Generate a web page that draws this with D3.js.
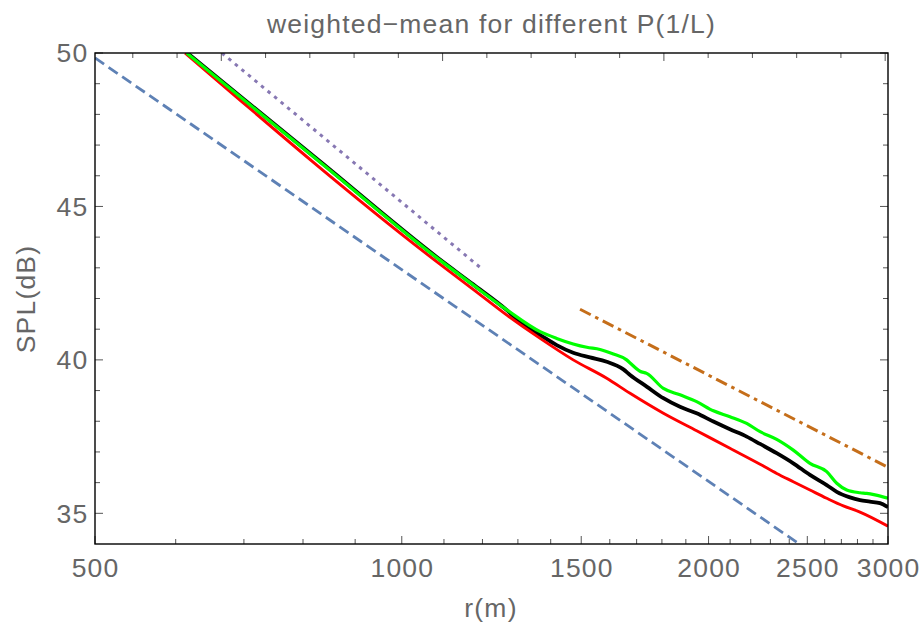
<!DOCTYPE html>
<html><head><meta charset="utf-8">
<script src="https://cdn.jsdelivr.net/npm/d3@7"></script>
<style>
html,body{margin:0;padding:0;background:#fff;}
svg text{font-family:"Liberation Sans",Arial,sans-serif;fill:#666;}
</style></head>
<body><svg id="chart" width="923" height="624"></svg>
<script>
// ---- data ----
const titleText = "weighted\u2212mean for different P(1/L)";
const xLabelText = "r(m)";
const yLabelText = "SPL(dB)";
const xDomain = [500, 3000];
const yDomain = [34, 50];
const xMajorTicks = [500, 1000, 1500, 2000, 2500, 3000];
const xMinorTicks = [600, 700, 800, 900, 1100, 1200, 1300, 1400, 1600, 1700, 1800, 1900, 2100, 2200, 2300, 2400, 2600, 2700, 2800, 2900];
const yMajorTicks = [35, 40, 45, 50];
const yMinorTicks = [36, 37, 38, 39, 41, 42, 43, 44, 46, 47, 48, 49];
// top frame ticks (in ln r units)
const topMajorLn = [6.5, 7.0, 7.5, 8.0];
const topMinorLn = [6.3, 6.4, 6.6, 6.7, 6.8, 6.9, 7.1, 7.2, 7.3, 7.4, 7.6, 7.7, 7.8, 7.9];

const rGreen = [615, 831, 1090, 1175, 1268, 1367, 1419, 1473, 1519, 1565, 1613, 1662, 1675, 1713, 1739, 1806, 1875, 1947, 2022, 2099, 2180, 2247, 2333, 2422, 2515, 2612, 2672, 2733, 2816, 2859, 2913, 3000];
const splGreen = [50.00, 46.45, 43.25, 42.44, 41.63, 40.92, 40.70, 40.52, 40.41, 40.34, 40.19, 40.00, 39.90, 39.63, 39.56, 39.07, 38.86, 38.64, 38.34, 38.15, 37.93, 37.66, 37.41, 37.06, 36.63, 36.36, 35.98, 35.76, 35.67, 35.65, 35.60, 35.49];

const rBlack = [615, 831, 1090, 1175, 1268, 1316, 1367, 1419, 1473, 1530, 1589, 1650, 1675, 1739, 1806, 1875, 1947, 2022, 2099, 2180, 2247, 2333, 2422, 2515, 2612, 2672, 2753, 2816, 2880, 2946, 3000];
const splBlack = [50.02, 46.47, 43.27, 42.46, 41.62, 41.14, 40.81, 40.48, 40.23, 40.08, 39.94, 39.69, 39.51, 39.13, 38.75, 38.47, 38.26, 37.99, 37.74, 37.50, 37.26, 36.96, 36.63, 36.25, 35.92, 35.70, 35.52, 35.43, 35.38, 35.33, 35.20];

const rRed = [613, 1090, 1175, 1268, 1367, 1473, 1589, 1675, 1806, 1947, 2099, 2247, 2333, 2422, 2515, 2612, 2712, 2816, 3000];
const splRed = [50.00, 43.12, 42.30, 41.46, 40.70, 40.00, 39.40, 38.91, 38.26, 37.69, 37.12, 36.60, 36.30, 36.03, 35.76, 35.49, 35.24, 35.04, 34.58];

const rBlueRef = [500, 2455];
const splBlueRef = [49.84, 34.0];
const rPurpleRef = [666, 1195];
const splPurpleRef = [50.0, 43.0];
const rOrangeRef = [1496, 3000];
const splOrangeRef = [41.65, 36.5];

// ---- layout ----
const m = {left: 95, right: 888, top: 53, bottom: 544};
const svg = d3.select("#chart");
const x = d3.scaleLog().domain(xDomain).range([m.left, m.right]);
const y = d3.scaleLinear().domain(yDomain).range([m.bottom, m.top]);
const xLn = d3.scaleLinear().domain([Math.log(xDomain[0]), Math.log(xDomain[1])]).range([m.left, m.right]);

svg.append("defs").append("clipPath").attr("id", "clip")
  .append("rect").attr("x", m.left).attr("y", m.top)
  .attr("width", m.right - m.left).attr("height", m.bottom - m.top);

const fs = "26.5px", ls = "1.2px";

// title
svg.append("text").attr("x", (m.left + m.right) / 2).attr("y", 33)
  .attr("text-anchor", "middle").style("font-size", fs).style("letter-spacing", ls).text(titleText);

// lines
const plot = svg.append("g").attr("clip-path", "url(#clip)");
const line = d3.line().x(d => x(d[0])).y(d => y(d[1]));
const zip = (a, b) => a.map((v, i) => [v, b[i]]);

plot.append("path").datum(zip(rBlueRef, splBlueRef)).attr("d", line)
  .attr("fill", "none").attr("stroke", "#5E81B5").attr("stroke-width", 2.8).attr("stroke-dasharray", "11,5.5");
plot.append("path").datum(zip(rPurpleRef, splPurpleRef)).attr("d", line)
  .attr("fill", "none").attr("stroke", "#8778B3").attr("stroke-width", 3).attr("stroke-dasharray", "3.5,5");
plot.append("path").datum(zip(rOrangeRef, splOrangeRef)).attr("d", line)
  .attr("fill", "none").attr("stroke", "#C56E1A").attr("stroke-width", 3).attr("stroke-dasharray", "12,5,3.5,5");

const smooth = d3.line().x(d => x(d[0])).y(d => y(d[1])).curve(d3.curveMonotoneX);
plot.append("path").datum(zip(rBlack, splBlack)).attr("d", smooth)
  .attr("fill", "none").attr("stroke", "#000").attr("stroke-width", 3.8).attr("stroke-linejoin", "round");
plot.append("path").datum(zip(rRed, splRed)).attr("d", smooth)
  .attr("fill", "none").attr("stroke", "#FF0000").attr("stroke-width", 2.9).attr("stroke-linejoin", "round");
plot.append("path").datum(zip(rGreen, splGreen)).attr("d", smooth)
  .attr("fill", "none").attr("stroke", "#00FF00").attr("stroke-width", 3.2).attr("stroke-linejoin", "round");

// ticks
const tickCol = "#555";
const tg = svg.append("g").attr("stroke", tickCol).attr("stroke-width", 1);
const major = 8, minor = 5;
xMajorTicks.forEach(v => {
  tg.append("line").attr("x1", x(v)).attr("x2", x(v)).attr("y1", m.bottom).attr("y2", m.bottom - major);
});
xMinorTicks.forEach(v => {
  tg.append("line").attr("x1", x(v)).attr("x2", x(v)).attr("y1", m.bottom).attr("y2", m.bottom - minor);
});
topMajorLn.forEach(v => {
  tg.append("line").attr("x1", xLn(v)).attr("x2", xLn(v)).attr("y1", m.top).attr("y2", m.top + major);
});
topMinorLn.forEach(v => {
  tg.append("line").attr("x1", xLn(v)).attr("x2", xLn(v)).attr("y1", m.top).attr("y2", m.top + minor);
});
yMajorTicks.forEach(v => {
  tg.append("line").attr("x1", m.left).attr("x2", m.left + major).attr("y1", y(v)).attr("y2", y(v));
  tg.append("line").attr("x1", m.right).attr("x2", m.right - major).attr("y1", y(v)).attr("y2", y(v));
});
yMinorTicks.forEach(v => {
  tg.append("line").attr("x1", m.left).attr("x2", m.left + minor).attr("y1", y(v)).attr("y2", y(v));
  tg.append("line").attr("x1", m.right).attr("x2", m.right - minor).attr("y1", y(v)).attr("y2", y(v));
});

// frame
svg.append("rect").attr("x", m.left).attr("y", m.top)
  .attr("width", m.right - m.left).attr("height", m.bottom - m.top)
  .attr("fill", "none").attr("stroke", "#000").attr("stroke-width", 1.4);

// tick labels
xMajorTicks.forEach(v => {
  svg.append("text").attr("x", x(v) + 0.6).attr("y", 577)
    .attr("text-anchor", "middle").style("font-size", fs).style("letter-spacing", ls).text(v);
});
yMajorTicks.forEach(v => {
  svg.append("text").attr("x", 88.5).attr("y", y(v)).attr("dy", "0.35em")
    .attr("text-anchor", "end").style("font-size", fs).style("letter-spacing", ls).text(v);
});

// axis labels
svg.append("text").attr("x", 491).attr("y", 617)
  .attr("text-anchor", "middle").style("font-size", fs).style("letter-spacing", ls).text(xLabelText);
svg.append("text").attr("transform", "translate(35,299) rotate(-90)")
  .attr("text-anchor", "middle").style("font-size", fs).style("letter-spacing", ls).text(yLabelText);
</script>
</body></html>
